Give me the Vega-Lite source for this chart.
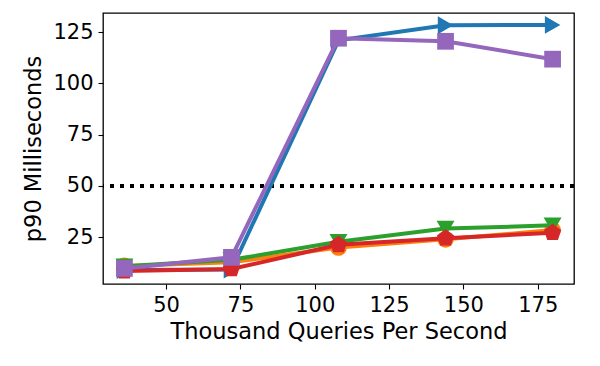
{
  "$schema": "https://vega.github.io/schema/vega-lite/v6.json",
  "autosize": "none",
  "width": 471,
  "height": 271,
  "padding": {"left": 103, "top": 13, "right": 26, "bottom": 82},
  "background": "white",
  "config": {
    "view": {"stroke": "black", "strokeWidth": 1.3},
    "font": "DejaVu Sans",
    "axis": {
      "grid": false,
      "domain": false,
      "labelFont": "DejaVu Sans",
      "labelFontSize": 21,
      "labelColor": "black",
      "tickColor": "black",
      "tickSize": 5,
      "tickWidth": 1.1,
      "labelPadding": 5,
      "titleFont": "DejaVu Sans",
      "titleFontSize": 22.5,
      "titleFontWeight": "normal",
      "titleColor": "black"
    }
  },
  "data": {
    "values": [
      {"series": "A", "qps": 36, "p90": 9.0},
      {"series": "A", "qps": 72, "p90": 9.3},
      {"series": "A", "qps": 108, "p90": 121.0},
      {"series": "A", "qps": 144, "p90": 128.3},
      {"series": "A", "qps": 180, "p90": 128.5},
      {"series": "B", "qps": 36, "p90": 11.0},
      {"series": "B", "qps": 72, "p90": 12.8},
      {"series": "B", "qps": 108, "p90": 20.0},
      {"series": "B", "qps": 144, "p90": 24.0},
      {"series": "B", "qps": 180, "p90": 28.5},
      {"series": "C", "qps": 36, "p90": 10.8},
      {"series": "C", "qps": 72, "p90": 14.0},
      {"series": "C", "qps": 108, "p90": 22.8},
      {"series": "C", "qps": 144, "p90": 29.2},
      {"series": "C", "qps": 180, "p90": 30.8},
      {"series": "D", "qps": 36, "p90": 8.5},
      {"series": "D", "qps": 72, "p90": 9.5},
      {"series": "D", "qps": 108, "p90": 21.3},
      {"series": "D", "qps": 144, "p90": 24.5},
      {"series": "D", "qps": 180, "p90": 27.2},
      {"series": "E", "qps": 36, "p90": 9.8},
      {"series": "E", "qps": 72, "p90": 15.2},
      {"series": "E", "qps": 108, "p90": 122.0},
      {"series": "E", "qps": 144, "p90": 120.5},
      {"series": "E", "qps": 180, "p90": 111.8}
    ]
  },
  "encoding": {
    "x": {
      "field": "qps", "type": "quantitative",
      "scale": {"domain": [28.8, 187.2], "nice": false, "zero": false},
      "axis": {"values": [50, 75, 100, 125, 150, 175], "title": "Thousand Queries Per Second", "titlePadding": 5}
    },
    "y": {
      "field": "p90", "type": "quantitative",
      "scale": {"domain": [2.2, 134.3], "nice": false, "zero": false},
      "axis": {"values": [25, 50, 75, 100, 125], "title": "p90 Milliseconds", "titlePadding": 7}
    },
    "color": {
      "field": "series", "type": "nominal",
      "scale": {"domain": ["A", "B", "C", "D", "E"], "range": ["#1f77b4", "#ff7f0e", "#2ca02c", "#d62728", "#9467bd"]},
      "legend": null
    }
  },
  "layer": [
    {
      "mark": {"type": "rule", "color": "black", "strokeWidth": 4, "strokeDash": [4, 6]},
      "encoding": {"y": {"datum": 50}, "x": null, "color": null}
    },
    {
      "transform": [{"filter": "datum.series == 'A'"}],
      "layer": [
        {"mark": {"type": "line", "strokeWidth": 4}},
        {"mark": {"type": "point", "filled": true, "opacity": 1, "size": 320, "shape": "triangle-right"}}
      ]
    },
    {
      "transform": [{"filter": "datum.series == 'B'"}],
      "layer": [
        {"mark": {"type": "line", "strokeWidth": 4}},
        {"mark": {"type": "point", "filled": true, "opacity": 1, "size": 280, "shape": "circle"}}
      ]
    },
    {
      "transform": [{"filter": "datum.series == 'C'"}],
      "layer": [
        {"mark": {"type": "line", "strokeWidth": 4}},
        {"mark": {"type": "point", "filled": true, "opacity": 1, "size": 320, "shape": "triangle-down"}}
      ]
    },
    {
      "transform": [{"filter": "datum.series == 'D'"}],
      "layer": [
        {"mark": {"type": "line", "strokeWidth": 4}},
        {"mark": {"type": "point", "filled": true, "opacity": 1, "size": 330, "shape": "M0,-1L0.951,-0.309L0.588,0.809L-0.588,0.809L-0.951,-0.309Z"}}
      ]
    },
    {
      "transform": [{"filter": "datum.series == 'E'"}],
      "layer": [
        {"mark": {"type": "line", "strokeWidth": 4}},
        {"mark": {"type": "point", "filled": true, "opacity": 1, "size": 280, "shape": "square"}}
      ]
    }
  ]
}
